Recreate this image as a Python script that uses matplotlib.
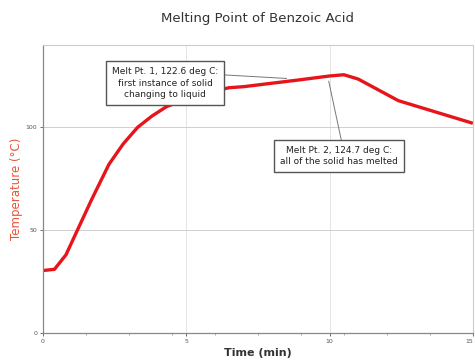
import matplotlib
matplotlib.use('Agg')
import matplotlib.pyplot as plt
from matplotlib.ticker import MultipleLocator

# 시간(분)과 온도(°C) - 그림에서 읽은 값
time_min = [0.0, 0.4, 0.8, 1.2, 1.7, 2.3, 2.8, 3.3, 3.8, 4.3, 5.0, 5.7,
            6.5, 7.0, 8.0, 9.0, 10.0, 10.5, 11.0, 12.4, 13.7, 15.0]
temp_c = [30.4, 31.0, 38.0, 50.0, 65.0, 82.0, 92.0, 100.0, 105.5, 110.0,
          114.0, 117.0, 119.3, 119.8, 121.5, 123.2, 125.0, 125.6, 123.5,
          113.0, 107.5, 102.0]

x_ticks = [0, 5, 10, 15]
x_tick_labels = ['0', '5', '10', '15']
y_ticks = [0, 50, 100]
y_tick_labels = ['0', '50', '100']

note1 = 'Melt Pt. 1, 122.6 deg C:\nfirst instance of solid\nchanging to liquid'
note1_xy = (8.5, 123.8)
note1_pos = (4.27, 121.5)
note2 = 'Melt Pt. 2, 124.7 deg C:\nall of the solid has melted'
note2_xy = (9.97, 122.5)
note2_pos = (10.33, 86.0)


def draw():
    fig = plt.figure(figsize=(4.75, 3.64), dpi=100)
    ax = fig.add_axes([0.0905, 0.085, 0.905, 0.791])

    ax.plot(time_min, temp_c, color='#e8141c', linewidth=2.4,
            solid_capstyle='butt', zorder=2)

    ax.set_xlim(0, 15)
    ax.set_ylim(0, 140)
    ax.set_xticks(x_ticks)
    ax.set_xticklabels(x_tick_labels)
    ax.set_yticks(y_ticks)
    ax.set_yticklabels(y_tick_labels)
    ax.get_xticklabels()[-1].set_horizontalalignment('right')
    ax.xaxis.set_minor_locator(MultipleLocator(1.5))
    ax.tick_params(axis='both', labelsize=4.5, colors='#555555',
                   length=2, width=0.6, pad=2)
    ax.tick_params(axis='x', which='minor', length=1.5, width=0.5,
                   colors='#888888')

    ax.grid(axis='y', color='#cfcfcf', linewidth=0.7)
    ax.grid(axis='x', color='#e4e4e4', linewidth=0.7)
    ax.set_axisbelow(True)

    for side in ['top', 'right']:
        ax.spines[side].set_color('#cccccc')
        ax.spines[side].set_linewidth(0.8)
    for side in ['left', 'bottom']:
        ax.spines[side].set_color('#888888')
        ax.spines[side].set_linewidth(0.9)

    ax.set_title('Melting Point of Benzoic Acid', fontsize=9.5,
                 color='#333333', pad=17)
    ax.set_xlabel('Time (min)', fontsize=8, fontweight='bold',
                  color='#333333', labelpad=3)
    ax.set_ylabel('Temperature (°C)', fontsize=8.5, color='#e8553a',
                  labelpad=2)

    box = dict(boxstyle='square,pad=0.65', facecolor='white',
               edgecolor='#555555', linewidth=1.0)
    ax.annotate(note1, xy=note1_xy, xytext=note1_pos, ha='center',
                va='center', fontsize=6.5, color='#222222', bbox=box,
                linespacing=1.35, zorder=4,
                arrowprops=dict(arrowstyle='-', color='#777777', lw=0.7,
                                relpos=(1.0, 0.77), shrinkA=0, shrinkB=0))
    ax.annotate(note2, xy=note2_xy, xytext=note2_pos, ha='center',
                va='center', fontsize=6.5, color='#222222', bbox=box,
                linespacing=1.35, zorder=4,
                arrowprops=dict(arrowstyle='-', color='#777777', lw=0.7,
                                relpos=(0.53, 1.0), shrinkA=0, shrinkB=0))

    fig.savefig('out.png', dpi=100, facecolor='white')


if __name__ == '__main__':
    draw()
